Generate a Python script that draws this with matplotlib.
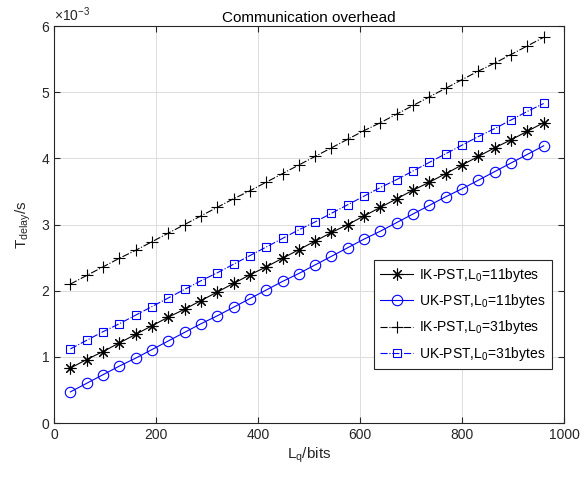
import matplotlib
matplotlib.use("Agg")
import matplotlib.pyplot as plt
import numpy as np

plt.rcParams['font.family'] = ['Liberation Sans', 'DejaVu Sans']
plt.rcParams['mathtext.fontset'] = 'custom'
plt.rcParams['mathtext.rm'] = 'Liberation Sans'
plt.rcParams['mathtext.it'] = 'Liberation Sans'

lq_bits = [32, 64, 96, 128, 160, 192, 224, 256, 288, 320, 352, 384, 416, 448, 480,
           512, 544, 576, 608, 640, 672, 704, 736, 768, 800, 832, 864, 896, 928, 960]

# delay values in milliseconds (axis shows x1e-3 s)
ik11_ms = [0.83, 0.96, 1.08, 1.21, 1.34, 1.47, 1.60, 1.72, 1.85, 1.98, 2.11, 2.24, 2.36, 2.49, 2.62,
           2.75, 2.88, 3.00, 3.13, 3.26, 3.39, 3.52, 3.64, 3.77, 3.90, 4.03, 4.16, 4.28, 4.41, 4.54]
uk11_ms = [0.47, 0.60, 0.73, 0.86, 0.98, 1.11, 1.24, 1.37, 1.50, 1.62, 1.75, 1.88, 2.01, 2.14, 2.26,
           2.39, 2.52, 2.65, 2.78, 2.90, 3.03, 3.16, 3.29, 3.42, 3.54, 3.67, 3.80, 3.93, 4.06, 4.19]
ik31_ms = [2.10, 2.23, 2.36, 2.49, 2.61, 2.74, 2.87, 3.00, 3.13, 3.26, 3.39, 3.51, 3.64, 3.77, 3.90,
           4.03, 4.16, 4.29, 4.42, 4.54, 4.67, 4.80, 4.93, 5.06, 5.19, 5.32, 5.44, 5.57, 5.70, 5.83]
uk31_ms = [1.12, 1.25, 1.38, 1.50, 1.63, 1.76, 1.89, 2.02, 2.15, 2.27, 2.40, 2.53, 2.66, 2.79, 2.92,
           3.04, 3.17, 3.30, 3.43, 3.56, 3.68, 3.81, 3.94, 4.07, 4.20, 4.33, 4.45, 4.58, 4.71, 4.83]

labels = ['IK-PST,L$_0$=11bytes', 'UK-PST,L$_0$=11bytes',
          'IK-PST,L$_0$=31bytes', 'UK-PST,L$_0$=31bytes']

fig = plt.figure(figsize=(5.84, 4.83), dpi=100)
ax = fig.add_axes([0.0925, 0.1242, 0.8733, 0.8218])

x = np.array(lq_bits)
ax.plot(x, np.array(ik11_ms) * 1e-3, color='k', linestyle='-', linewidth=0.8,
        marker=(8, 2, 0), markersize=8.5, markeredgewidth=0.8, label=labels[0])
ax.plot(x, np.array(uk11_ms) * 1e-3, color='b', linestyle='-', linewidth=0.8,
        marker='o', markersize=7.5, markerfacecolor='none', markeredgewidth=0.8, label=labels[1])
ax.plot(x, np.array(ik31_ms) * 1e-3, color='k', linestyle='-.', linewidth=0.8,
        marker='+', markersize=8.5, markeredgewidth=0.8, label=labels[2])
ax.plot(x, np.array(uk31_ms) * 1e-3, color='b', linestyle='-.', linewidth=0.8,
        marker='s', markersize=6, markerfacecolor='none', markeredgewidth=0.8, label=labels[3])

ax.set_xlim(0, 1000)
ax.set_ylim(0, 6e-3)
ax.set_xticks([0, 200, 400, 600, 800, 1000])
ax.set_yticks([0, 1e-3, 2e-3, 3e-3, 4e-3, 5e-3, 6e-3])
ax.set_yticklabels(['0', '1', '2', '3', '4', '5', '6'])
ax.text(0.0, 1.005, r'$\times$10$^{-3}$', transform=ax.transAxes, fontsize=10,
        ha='left', va='bottom', color='#262626')

ax.grid(True, color='#dcdcdc', linewidth=0.7)
ax.set_axisbelow(True)
ax.tick_params(direction='in', top=True, right=True, labelsize=10, colors='#262626',
               length=4, width=0.8)
for s in ax.spines.values():
    s.set_color('#262626')
    s.set_linewidth(0.8)

ax.set_title('Communication overhead', fontsize=11, pad=3, color='k')
ax.set_xlabel('L$_\\mathregular{q}$/bits', fontsize=11, color='#262626', labelpad=3)
ax.set_ylabel('T$_\\mathregular{delay}$/s', fontsize=11, color='#262626', labelpad=6)

leg = ax.legend(loc='lower right', bbox_to_anchor=(0.976, 0.136), fontsize=10,
                frameon=True, fancybox=False, edgecolor='#262626', framealpha=1,
                handlelength=2.4, borderpad=0.45, labelspacing=0.6, handletextpad=0.4,
                borderaxespad=0)
leg.get_frame().set_linewidth(0.8)

fig.savefig('out.png', dpi=100)
